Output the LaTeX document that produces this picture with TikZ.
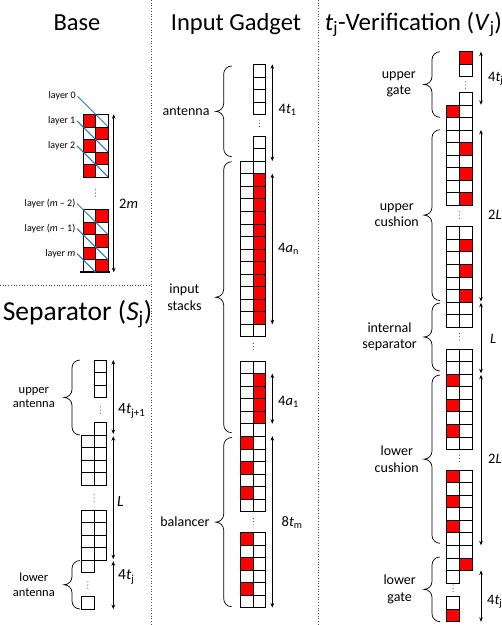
\documentclass[tikz,border=0pt]{standalone}
\usepackage{fontspec}
\setmainfont{Carlito}
\usetikzlibrary{arrows.meta}
\definecolor{Rd}{RGB}{255,0,0}
\colorlet{Wt}{white}
\definecolor{LayerBlue}{RGB}{36,122,200}
\def\csz{12.55}
% one cell, a row of two cells, three dots
\newcommand\cellxy[3]{\draw[cell,fill=#3] (#1,#2) rectangle ++(\csz,\csz);}
\newcommand\rowxy[4]{\cellxy{#1}{#2}{#3}\cellxy{#1+\csz}{#2}{#4}}
\newcommand\vdotsxy[2]{\foreach \k in {-3.2,0,3.2} {\fill[black!80] (#1,#2) ++(0,\k) circle (.55pt);}}
% left brace: x of the ends, top, bottom, gap to text, node name, text
\newcommand\bracel[6]{%
  \pgfmathsetmacro\bym{(#2+#3)/2}%
  \draw[brc] (#1,#2) arc[start angle=270,end angle=180,radius=8]
    -- (#1-8,\bym-8) arc[start angle=0,end angle=90,radius=8]
    arc[start angle=270,end angle=360,radius=8]
    -- (#1-8,#3-8) arc[start angle=180,end angle=90,radius=8];
  \node[blbl] (#5) at (#1-#4,\bym) {#6};}

\begin{document}
\begin{tikzpicture}[x=1pt,y=-1pt,
 cell/.style={draw=black,line width=.7pt},
 dimarr/.style={{Stealth[length=4.5pt,width=3.6pt]}-{Stealth[length=4.5pt,width=3.6pt]},line width=.7pt},
 brc/.style={line width=.7pt},
 blbl/.style={anchor=east,align=center,inner sep=0pt,font=\fontsize{14}{16.5}\selectfont},
 dlbl/.style={anchor=west,inner sep=0pt,font=\fontsize{14.5}{17}\selectfont},
 ttl/.style={anchor=base,inner sep=0pt,font=\fontsize{24.5}{29}\selectfont},
 lay/.style={draw=LayerBlue,line width=1pt},
 llbl/.style={anchor=east,inner sep=1.5pt,font=\fontsize{10}{12}\selectfont},
 sepl/.style={dotted,line width=.7pt,black!70}]
\useasboundingbox (0,0) rectangle (502,625);
\clip (0,0) rectangle (502,625);
% section borders
\draw[sepl] (151,0) -- (151,625);
\draw[sepl] (318,0) -- (318,625);
\draw[sepl] (0,285) -- (151,285);
% titles
\node[ttl] (base title) at (77,30) {Base};
\node[ttl,font=\fontsize{27.5}{32}\selectfont] (sep title) at (77.5,320) {Separator (\textit{S}\textsubscript{j})};
\node[ttl] (inp title) at (236,30) {Input Gadget};
\node[ttl,font=\fontsize{25}{30}\selectfont] (ver title) at (413.5,30) {\textit{t}\textsubscript{j}-Verification (\textit{V}\textsubscript{j})};

% ---- Base ----
\foreach \p/\q [count=\i from 0] in {Rd/Wt,Wt/Rd,Rd/Wt,Wt/Rd,Rd/Wt}
  {\rowxy{83}{114.3+\i*\csz}{\p}{\q}}
\foreach \p/\q [count=\i from 0] in {Wt/Rd,Rd/Wt,Wt/Rd,Rd/Wt,Wt/Rd}
  {\rowxy{83}{209.5+\i*\csz}{\p}{\q}}
\vdotsxy{95.55}{193}
\draw[line width=1.8pt] (80,272.25) -- (110,272.25);
\foreach \n/\lx/\ly/\mx/\my/\txt in {0/77.5/96.25/108.1/126.85/layer 0,
  1/77/120.85/108.1/151.95/layer 1,
  2/77/145.95/108.1/177.05/layer 2,
  m2/77/203.5/108.1/234.6/layer (\textit{m} – 2),
  m1/77/228.6/108.1/259.7/layer (\textit{m} – 1),
  m/77/253.7/95.55/272.25/layer \textit{m}}
{
  \node[llbl] (lay\n) at (\lx,\ly) {\txt};
  \coordinate (lay\n end) at (\mx,\my);
  \draw[lay] (lay\n.east) -- (lay\n end);
}
\coordinate (base top) at (113.7,114.3);
\coordinate (base bot) at (113.7,272.25);
\draw[dimarr] (base top) -- (base bot);
\node[dlbl] (base dim) at (119,204) {2\textit{m}};

% ---- Separator ----
\foreach \i in {0,1,2} {\cellxy{94.05}{360+\i*\csz}{Wt}}
\vdotsxy{100.3}{410}
\cellxy{94.05}{422.45}{Wt}
\foreach \i in {0,...,3} {\rowxy{81.5}{435+\i*\csz}{Wt}{Wt}}
\vdotsxy{94.05}{498}
\foreach \i in {0,...,3} {\rowxy{81.5}{510+\i*\csz}{Wt}{Wt}}
\cellxy{81.5}{560.2}{Wt}
\vdotsxy{87.8}{585}
\cellxy{81.5}{596.7}{Wt}
\begin{scope}[blbl/.append style={font=\fontsize{12.5}{14.5}\selectfont}]
\bracel{80}{360}{435}{25}{sep up}{upper\\antenna}
\bracel{80}{560.5}{609}{25}{sep low}{lower\\antenna}
\end{scope}
\coordinate (sa1) at (113.3,360);
\coordinate (sa2) at (113.3,434);
\coordinate (sb1) at (113.3,436.2);
\coordinate (sb2) at (113.3,559.2);
\coordinate (sc1) at (113.3,561.2);
\coordinate (sc2) at (113.3,609.2);
\draw[dimarr] (sa1) -- (sa2);
\draw[dimarr] (sb1) -- (sb2);
\draw[dimarr] (sc1) -- (sc2);
\node[dlbl,font=\fontsize{15.5}{18}\selectfont] (sep dim a) at (118,411) {4\textit{t}\textsubscript{j+1}};
\node[dlbl,font=\fontsize{15.5}{18}\selectfont] (sep dim b) at (117,501.7) {\textit{L}};
\node[dlbl,font=\fontsize{15.5}{18}\selectfont] (sep dim c) at (118,577) {4\textit{t}\textsubscript{j}};

% ---- Input Gadget ----
\foreach \i in {0,...,3} {\cellxy{253.25}{64.3+\i*\csz}{Wt}}
\vdotsxy{259.5}{123.3}
\foreach \i in {0,1} {\cellxy{253.25}{136+\i*\csz}{Wt}}
\rowxy{240.7}{161.1}{Wt}{Wt}
\foreach \i in {1,...,12} {\rowxy{240.7}{161.1+\i*\csz}{Wt}{Rd}}
\rowxy{240.7}{161.1+13*\csz}{Wt}{Wt}
\vdotsxy{253.25}{346.7}
\foreach \p/\q [count=\i from 0] in {Wt/Wt,Wt/Rd,Wt/Rd,Wt/Rd,Wt/Rd,Wt/Wt,Rd/Wt,Wt/Wt,Rd/Wt,Wt/Wt,Rd/Wt,Wt/Wt}
  {\rowxy{240.7}{361+\i*\csz}{\p}{\q}}
\vdotsxy{253.25}{521.7}
\foreach \p/\q [count=\i from 0] in {Rd/Wt,Wt/Wt,Rd/Wt,Wt/Wt,Rd/Wt,Wt/Wt}
  {\rowxy{240.7}{532.3+\i*\csz}{\p}{\q}}
\bracel{231.7}{66}{156.7}{22}{inp ant}{antenna}
\bracel{231.7}{161.7}{432.7}{30}{inp stk}{input\\stacks}
\bracel{231.7}{437.5}{606.7}{22}{inp bal}{balancer}
\coordinate (ia1) at (272.3,64.3);
\coordinate (ia2) at (272.3,161.1);
\coordinate (ib1) at (272.3,173.65);
\coordinate (ib2) at (272.3,324.25);
\coordinate (ic1) at (272.3,373.55);
\coordinate (ic2) at (272.3,423.75);
\coordinate (id1) at (272.3,436.1);
\coordinate (id2) at (272.3,607.6);
\draw[dimarr] (ia1) -- (ia2);
\draw[dimarr] (ib1) -- (ib2);
\draw[dimarr] (ic1) -- (ic2);
\draw[dimarr] (id1) -- (id2);
\node[dlbl] (inp dim a) at (278.5,110) {4\textit{t}\textsubscript{1}};
\node[dlbl] (inp dim b) at (278,248.5) {4\textit{a}\textsubscript{n}};
\node[dlbl] (inp dim c) at (278,401.5) {4\textit{a}\textsubscript{1}};
\node[dlbl] (inp dim d) at (281.5,522.5) {8\textit{t}\textsubscript{m}};

% ---- Verification ----
\cellxy{459.35}{51.7}{Rd}
\cellxy{459.35}{64.25}{Wt}
\vdotsxy{465.6}{85}
\cellxy{459.35}{92.3}{Wt}
\rowxy{446.8}{104.85}{Rd}{Wt}
\rowxy{446.8}{117.4}{Wt}{Wt}
\foreach \p/\q [count=\i from 0] in {Wt/Wt,Wt/Rd,Wt/Wt,Wt/Rd,Wt/Wt,Wt/Rd}
  {\rowxy{446.8}{129.95+\i*\csz}{\p}{\q}}
\vdotsxy{459.35}{215}
\foreach \p/\q [count=\i from 0] in {Wt/Wt,Wt/Rd,Wt/Wt,Wt/Rd,Wt/Wt,Wt/Rd,Wt/Wt,Wt/Wt}
  {\rowxy{446.8}{226.7+\i*\csz}{\p}{\q}}
\vdotsxy{459.35}{336.7}
\foreach \p/\q [count=\i from 0] in {Wt/Wt,Wt/Wt,Rd/Wt,Wt/Wt,Rd/Wt,Wt/Wt,Rd/Wt,Wt/Wt}
  {\rowxy{446.8}{349+\i*\csz}{\p}{\q}}
\vdotsxy{459.35}{458.3}
\foreach \p/\q [count=\i from 0] in {Rd/Wt,Wt/Wt,Rd/Wt,Wt/Wt,Rd/Wt,Wt/Wt,Wt/Wt,Wt/Rd}
  {\rowxy{446.8}{470+\i*\csz}{\p}{\q}}
\cellxy{446.8}{570.4}{Wt}
\vdotsxy{453.1}{588.3}
\cellxy{446.8}{596.7}{Wt}
\cellxy{446.8}{609.25}{Rd}
\bracel{440}{51.7}{117.3}{24}{ver ug}{upper\\gate}
\bracel{440}{129.7}{300.5}{21}{ver uc}{upper\\cushion}
\bracel{440}{303}{371}{23}{ver is}{internal\\separator}
\bracel{440}{375}{543.3}{21}{ver lc}{lower\\cushion}
\bracel{440}{557}{621.7}{24}{ver lg}{lower\\gate}
\coordinate (va1) at (481,51.7);
\coordinate (va2) at (481,104.85);
\coordinate (vb1) at (481,129.95);
\coordinate (vb2) at (481,301.5);
\coordinate (vc1) at (481,302.8);
\coordinate (vc2) at (481,373.3);
\coordinate (vd1) at (481,374.8);
\coordinate (vd2) at (481,545.3);
\coordinate (ve1) at (481,570.4);
\coordinate (ve2) at (481,621.8);
\draw[dimarr] (va1) -- (va2);
\draw[dimarr] (vb1) -- (vb2);
\draw[dimarr] (vc1) -- (vc2);
\draw[dimarr] (vd1) -- (vd2);
\draw[dimarr] (ve1) -- (ve2);
\node[dlbl] (ver dim a) at (488,78.3) {4\textit{t}\textsubscript{j}};
\node[dlbl] (ver dim b) at (488,215) {2\textit{L}};
\node[dlbl] (ver dim c) at (490,339) {\textit{L}};
\node[dlbl] (ver dim d) at (488,458.5) {2\textit{L}};
\node[dlbl] (ver dim e) at (487,601.5) {4\textit{t}\textsubscript{j}};
\end{tikzpicture}
\end{document}
